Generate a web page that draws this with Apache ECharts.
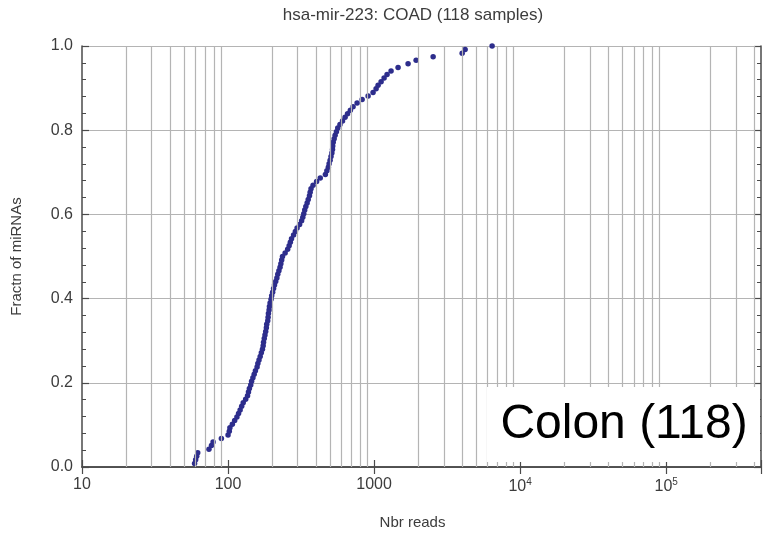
<!DOCTYPE html>
<html>
<head>
<meta charset="utf-8">
<script src="https://cdn.jsdelivr.net/npm/echarts@6/dist/echarts.min.js"></script>
<style>
  html, body { margin: 0; padding: 0; background: #ffffff; }
  #chart { width: 768px; height: 541px; }
</style>
</head>
<body>
<div id="chart"></div>
<script>
// Texts
const titleText = 'hsa-mir-223: COAD (118 samples)';
const xAxisName = 'Nbr reads';
const yAxisName = 'Fractn of miRNAs';
const panelLabel = 'Colon (118)';

// Read counts of hsa-mir-223 per COAD sample, sorted ascending
const reads = [
  59, 60, 61, 62, 74, 77, 79, 90, 100, 102,
  103, 107, 111, 115, 118, 121, 124, 127, 132, 136,
  138, 140, 143, 145, 148, 151, 154, 158, 160, 163,
  166, 169, 172, 174, 175, 177, 179, 181, 183, 184,
  187, 188, 189, 191, 192, 194, 197, 199, 202, 205,
  208, 212, 216, 219, 223, 227, 230, 233, 236, 246,
  256, 262, 267, 272, 281, 289, 297, 309, 319, 325,
  330, 335, 341, 348, 354, 361, 365, 370, 382, 404,
  428, 464, 475, 486, 492, 500, 507, 514, 519, 521,
  525, 533, 541, 552, 564, 584, 608, 633, 658, 688,
  718, 765, 828, 910, 984, 1032, 1065, 1117, 1171, 1227,
  1307, 1460, 1709, 1940, 2537, 4009, 4200, 6428
];

// Axis ranges
const xMin = 10;
const xMax = 446000;
const gridMultipliers = [2, 3, 4, 5, 6, 7, 8, 9];
const gridDecades = [10, 100, 1000, 10000, 100000];

// Empirical cumulative fraction of samples at or below each read count
const n = reads.length;
const points = reads.map((r, i) => [r, (i + 1) / n]);

// Vertical grid lines at 2..9 x each decade
const vGrid = [];
gridDecades.forEach(d => gridMultipliers.forEach(m => {
  const v = d * m;
  if (v < xMax) vGrid.push({ xAxis: v });
}));

const frameColor = '#4a4a4a';
const gridColor = '#b4b4b4';
const labelColor = '#3c3c3c';
const fontFamily = '"Liberation Sans", Arial, Helvetica, sans-serif';

function decadeLabel(v) {
  const lg = Math.log10(v);
  const e = Math.round(lg);
  if (Math.abs(lg - e) > 1e-6) return '';
  if (e <= 3) return String(Math.round(v));
  return '10{sup|' + e + '}';
}

const frameAxisLine = { show: true, lineStyle: { color: frameColor, width: 1.5 } };

const chart = echarts.init(document.getElementById('chart'), null, { renderer: 'canvas' });
chart.setOption({
  animation: false,
  backgroundColor: '#ffffff',
  title: {
    text: titleText,
    left: 408,
    top: 2,
    textAlign: 'center',
    textStyle: { fontFamily, fontSize: 17, fontWeight: 'normal', color: labelColor }
  },
  grid: { left: 82, right: 7, top: 46, bottom: 74, containLabel: false },
  xAxis: [
    {
      type: 'log',
      logBase: 10,
      min: xMin,
      max: xMax,
      position: 'bottom',
      name: xAxisName,
      nameLocation: 'middle',
      nameGap: 48,
      nameTextStyle: { fontFamily, fontSize: 15, color: labelColor, padding: [0, 18, 0, 0] },
      axisLine: frameAxisLine,
      axisTick: { show: true, inside: true, length: 7, lineStyle: { color: frameColor, width: 1.2 } },
      axisLabel: {
        fontFamily, fontSize: 16, color: labelColor, margin: 10,
        formatter: decadeLabel,
        rich: { sup: { fontFamily, fontSize: 10, color: labelColor, padding: [0, 0, 10, 0] } }
      },
      splitLine: { show: false }
    },
    {
      type: 'log',
      logBase: 10,
      min: xMin,
      max: xMax,
      position: 'top',
      axisLine: frameAxisLine,
      axisTick: { show: true, inside: true, length: 7, lineStyle: { color: frameColor, width: 1.2 } },
      axisLabel: { show: false },
      splitLine: { show: false }
    }
  ],
  yAxis: [
    {
      type: 'value',
      min: 0,
      max: 1,
      interval: 0.2,
      position: 'left',
      name: yAxisName,
      nameLocation: 'middle',
      nameGap: 58,
      nameRotate: 90,
      nameTextStyle: { fontFamily, fontSize: 15, color: labelColor },
      axisLine: frameAxisLine,
      axisTick: { show: true, inside: true, length: 7, lineStyle: { color: frameColor, width: 1.2 } },
      minorTick: { show: true, splitNumber: 5, length: 4, lineStyle: { color: frameColor, width: 1 } },
      axisLabel: { fontFamily, fontSize: 16, color: labelColor, margin: 9, formatter: v => v.toFixed(1) },
      splitLine: { show: true, lineStyle: { color: gridColor, width: 1.2 } }
    },
    {
      type: 'value',
      min: 0,
      max: 1,
      interval: 0.2,
      position: 'right',
      axisLine: frameAxisLine,
      axisTick: { show: true, inside: true, length: 7, lineStyle: { color: frameColor, width: 1.2 } },
      minorTick: { show: true, splitNumber: 5, length: 4, lineStyle: { color: frameColor, width: 1 } },
      axisLabel: { show: false },
      splitLine: { show: false }
    }
  ],
  series: [
    {
      name: 'grid',
      type: 'line',
      data: [],
      z: 1,
      silent: true,
      markLine: {
        silent: true,
        symbol: ['none', 'none'],
        label: { show: false },
        lineStyle: { color: gridColor, width: 1.2, type: 'solid' },
        data: vGrid
      }
    },
    {
      name: 'samples',
      type: 'scatter',
      data: points,
      z: 3,
      symbol: 'circle',
      symbolSize: 5.5,
      itemStyle: { color: '#2d2d8c', opacity: 1 }
    }
  ],
  graphic: [
    {
      type: 'rect',
      z: 100,
      shape: { x: 487, y: 387, width: 273, height: 75 },
      style: { fill: '#ffffff' }
    },
    {
      type: 'text',
      z: 101,
      x: 624,
      y: 425,
      style: { text: panelLabel, font: '48px "Liberation Sans", Arial, sans-serif', fill: '#000000', align: 'center', verticalAlign: 'middle' }
    }
  ]
});
</script>
</body>
</html>
